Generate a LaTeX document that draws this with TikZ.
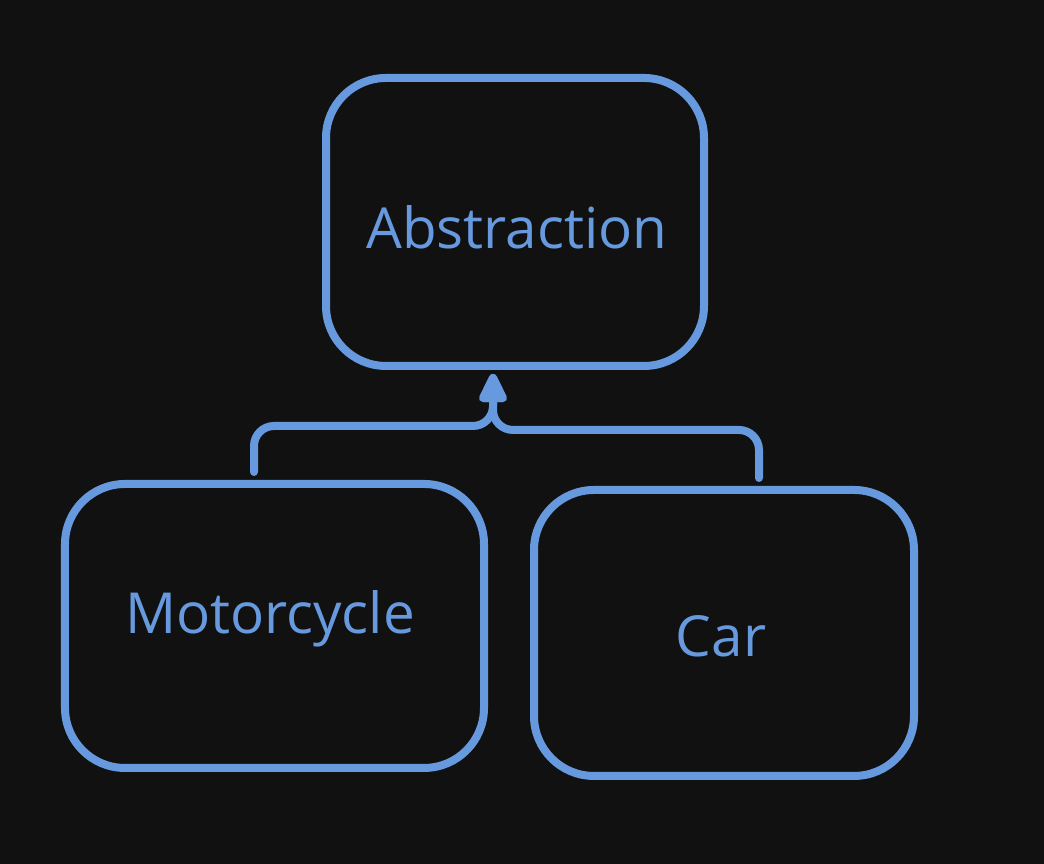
\documentclass[tikz,border=0pt]{standalone}
\usepackage{fontspec}
\setmainfont{Open Sans}
\usepackage{xcolor}
\definecolor{dkbg}{RGB}{17,17,17}
\definecolor{ltblue}{RGB}{102,153,221}
\usetikzlibrary{arrows.meta,positioning,calc}

\begin{document}
\begin{tikzpicture}[font=\fontsize{16.1}{18}\selectfont,
  box/.style={draw=ltblue,line width=0.08cm,rounded corners=0.6cm,text=ltblue,fill=dkbg},
  conn/.style={draw=ltblue,line width=0.08cm,rounded corners=2mm,line cap=round,
    -{Triangle[round,length=3.4mm,width=3mm]}}]
  \fill[dkbg] (0,0) rectangle (10.44,8.64);
  \useasboundingbox (0,0) rectangle (10.44,8.64);
  \node[box,minimum width=3.78cm,minimum height=2.88cm] (abst) at (5.15,6.42) {};
  \node[text=ltblue] (abstlbl) at (5.17,6.37) {Abstraction};
  \node[box,minimum width=4.19cm,minimum height=2.84cm] (moto) at (2.745,2.38) {};
  \node[text=ltblue] (motolbl) at (2.70,2.45) {Motorcycle};
  \node[box,minimum width=3.80cm,minimum height=2.86cm] (car) at (7.24,2.31) {};
  \node[text=ltblue] (carlbl) at (7.21,2.28) {Car};
  \coordinate (motoend) at ([xshift=-2.05mm,yshift=0.8mm]moto.north);
  \coordinate (carend) at ([xshift=3.5mm,yshift=0.8mm]car.north);
  \coordinate (tip) at ([xshift=-2.2mm,yshift=-0.4mm]abst.south);
  \draw[conn] (motoend) -- (motoend |- 0,4.38) -- (tip |- 0,4.38) -- (tip);
  \draw[conn] (carend) -- (carend |- 0,4.34) -- (tip |- 0,4.34) -- (tip);
\end{tikzpicture}
\end{document}
